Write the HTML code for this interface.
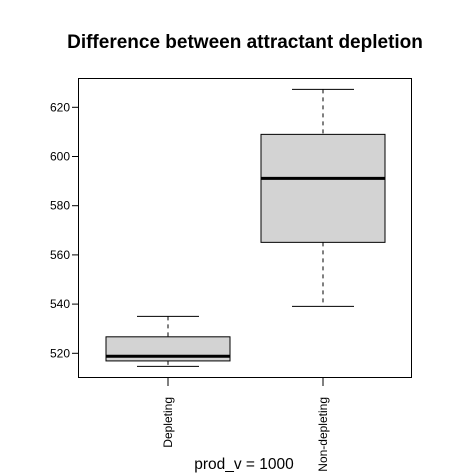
<!DOCTYPE html>
<html><head><meta charset="utf-8"><style>
html,body{margin:0;padding:0;background:#fff;}
svg{display:block;font-family:"Liberation Sans",Arial,sans-serif;}
</style></head><body>
<svg id="chart" width="453" height="475" viewBox="0 0 453 475" xmlns="http://www.w3.org/2000/svg">
<text x="245" y="48" text-anchor="middle" font-size="19" font-weight="bold">Difference between attractant depletion</text>
<rect x="78.5" y="78.5" width="333" height="299" fill="none" stroke="#000" stroke-width="1"/>
<g id="yaxis"></g>
<g id="xaxis"></g>
<g id="boxes"></g>
<text x="244" y="469" text-anchor="middle" font-size="15.5">prod_v = 1000</text>
</svg>
<script>
const categories = ["Depleting", "Non-depleting"];
const whiskerLow = [514.7, 539.1];
const q1 = [516.9, 565.1];
const medians = [518.8, 591.1];
const q3 = [526.7, 609.0];
const whiskerHigh = [535.0, 627.3];
const yTicks = [520, 540, 560, 580, 600, 620];

const NS = "http://www.w3.org/2000/svg";
function y(v){ return 353.3 - (v - 520) * 2.46; }
function x(i){ return 168 + i * 155; }
function mk(tag, attrs, parent){
  const e = document.createElementNS(NS, tag);
  for (const k in attrs) e.setAttribute(k, attrs[k]);
  parent.appendChild(e); return e;
}
const ya = document.getElementById('yaxis');
yTicks.forEach(t => {
  const l = mk('line', {x1:72, x2:78, y1:y(t), y2:y(t), stroke:'#000'}, ya);
  
  
  const tx = mk('text', {x:70, y:y(t)+4, 'text-anchor':'end', 'font-size':12}, ya);
  
  
  tx.textContent = t;
});
const xa = document.getElementById('xaxis');
const bx = document.getElementById('boxes');
categories.forEach((c, i) => {
  const cx = x(i);
  const tk = mk('line', {x1:cx, x2:cx, y1:378, y2:386, stroke:'#000'}, xa);
  
  
  const tx = mk('text', {x:0, y:0, 'text-anchor':'end', 'font-size':12, transform:`translate(${cx+4},397) rotate(-90)`}, xa);
  
  
  tx.textContent = c;
  const g = mk('g', {}, bx);
  
  
  const hw = 62, cw = 31;
  mk('line', {x1:cx, x2:cx, y1:y(whiskerHigh[i]), y2:y(q3[i]), stroke:'#000', 'stroke-dasharray':'4,4'}, g);
  mk('line', {x1:cx, x2:cx, y1:y(q1[i]), y2:y(whiskerLow[i]), stroke:'#000', 'stroke-dasharray':'4,4'}, g);
  mk('line', {x1:cx-cw, x2:cx+cw, y1:y(whiskerHigh[i]), y2:y(whiskerHigh[i]), stroke:'#000'}, g);
  mk('line', {x1:cx-cw, x2:cx+cw, y1:y(whiskerLow[i]), y2:y(whiskerLow[i]), stroke:'#000'}, g);
  mk('rect', {x:cx-hw, y:y(q3[i]), width:hw*2, height:y(q1[i])-y(q3[i]), fill:'#d3d3d3', stroke:'#000'}, g);
  mk('line', {x1:cx-hw, x2:cx+hw, y1:y(medians[i]), y2:y(medians[i]), stroke:'#000', 'stroke-width':3}, g);
});
</script>
</body></html>
